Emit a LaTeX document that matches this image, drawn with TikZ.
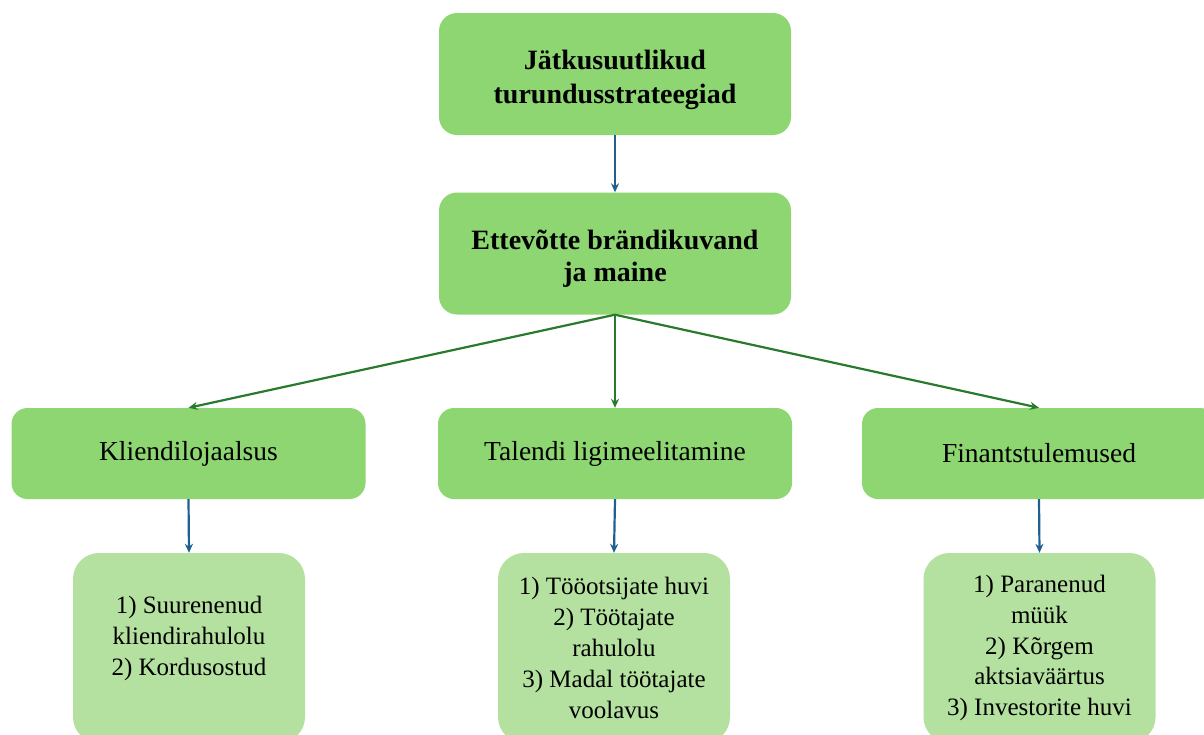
\documentclass[tikz,border=0pt]{standalone}
\usepackage{fontspec}
\setmainfont{Liberation Serif}
\usetikzlibrary{arrows.meta}
\definecolor{boxgreen}{HTML}{8DD672}
\definecolor{lightgreen}{HTML}{B4E19F}
\definecolor{arrowblue}{HTML}{1F6090}
\definecolor{arrowgreen}{HTML}{2A7A2E}
\tikzset{
  topbox/.style={fill=boxgreen, draw=none, rounded corners=18pt, minimum width=352pt, minimum height=122pt, align=center, font=\fontsize{28}{34}\selectfont\bfseries},
  midbox/.style={fill=boxgreen, draw=none, rounded corners=16pt, minimum width=354pt, minimum height=91pt, align=center, font=\fontsize{27.5}{32}\selectfont},
  leafbox/.style={fill=lightgreen, draw=none, rounded corners=26pt, minimum width=232pt, minimum height=190pt, align=center, font=\fontsize{25}{30.8}\selectfont},
  bluearrow/.style={draw=arrowblue, line width=2.2pt, -{Stealth[length=9pt,width=8pt]}},
  greenarrow/.style={draw=arrowgreen, line width=2.2pt, -{Stealth[length=9pt,width=8pt]}}
}
\begin{document}
\begin{tikzpicture}[x=1pt,y=-1pt]
\useasboundingbox (0,0) rectangle (1204,734);
\clip (0,0) rectangle (1204,734);
\node[topbox] (top) at (615,74) {\rule{0pt}{32pt}Jätkusuutlikud\\turundusstrateegiad};
\node[topbox, font=\fontsize{28}{32}\selectfont\bfseries] (brand) at (615,253.5) {\rule{0pt}{30pt}Ettevõtte brändikuvand\\ja maine};
\node[midbox] (klient) at (188.5,453.5) {Kliendilojaalsus};
\node[midbox] (talent) at (615,453.5) {Talendi ligimeelitamine};
\node[midbox] (finants) at (1039,453.5) {Finantstulemused};
\node[leafbox] (l1) at (189,648) {1) Suurenenud\\kliendirahulolu\\2) Kordusostud\rule[-24pt]{0pt}{0pt}};
\node[leafbox] (l2) at (614,648) {1) Tööotsijate huvi\\2) Töötajate\\rahulolu\\3) Madal töötajate\\voolavus};
\node[leafbox] (l3) at (1039.5,648) {1) Paranenud\\müük\\2) Kõrgem\\aktsiaväärtus\\3) Investorite huvi};
\coordinate (fork) at (brand.south);
\draw[bluearrow] (top.south) -- (brand.north);
\draw[greenarrow] (fork) -- (klient.north);
\draw[greenarrow] (fork) -- (talent.north);
\draw[greenarrow] (fork) -- (finants.north);
\draw[bluearrow] (klient.south) -- (l1.north);
\draw[bluearrow] (talent.south) -- (l2.north);
\draw[bluearrow] (finants.south) -- (l3.north);
\end{tikzpicture}
\end{document}
